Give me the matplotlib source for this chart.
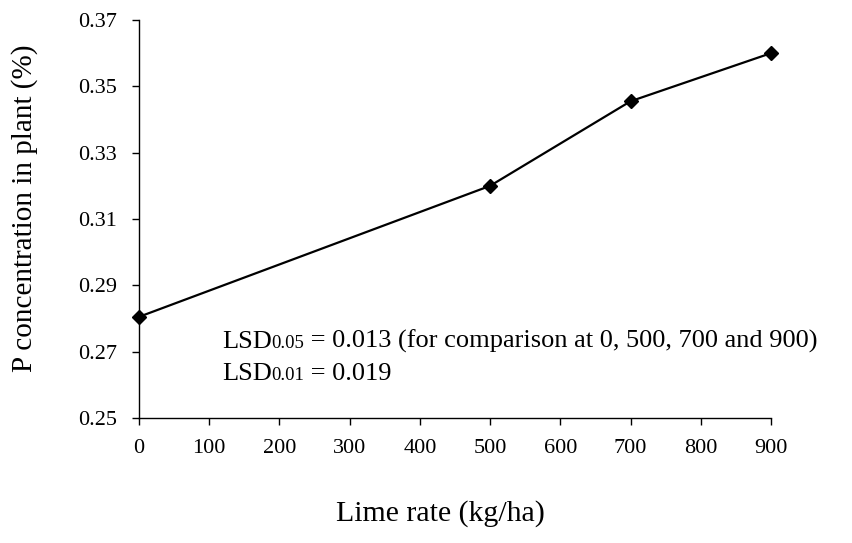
import numpy as np
import matplotlib
matplotlib.use('Agg')
import matplotlib.pyplot as plt
from matplotlib.transforms import offset_copy

# Lime rate (kg/ha) vs P concentration in plant (%)
lime_rate = [0, 500, 700, 900]
p_conc = [0.2805, 0.320, 0.3455, 0.360]

x_ticks = [0, 100, 200, 300, 400, 500, 600, 700, 800, 900]
y_ticks = [0.25, 0.27, 0.29, 0.31, 0.33, 0.35, 0.37]

lsd_lines = [("LSD", "0.05", " = 0.013 (for comparison at 0, 500, 700 and 900)"),
             ("LSD", "0.01", " = 0.019")]

plt.rcParams['font.family'] = ['Liberation Serif', 'DejaVu Serif']

fig = plt.figure(figsize=(8.53, 5.43), dpi=100)
ax = fig.add_axes([139/853, 1-418/543, (771-139)/853, (418-20)/543])

ax.plot(lime_rate, p_conc, color='black', lw=1.6, marker='D', ms=7,
        markerfacecolor='black', markeredgecolor='black', clip_on=False)

ax.set_xlim(0, 900)
ax.set_ylim(0.25, 0.37)
ax.set_xticks(x_ticks)
ax.set_yticks(y_ticks)
ax.set_yticklabels(['%.2f' % v for v in y_ticks])
ax.tick_params(axis='both', direction='out', length=5, width=1, labelsize=16)
ax.tick_params(axis='y', pad=11)
ax.tick_params(axis='x', pad=10)
for s in ['top', 'right']:
    ax.spines[s].set_visible(False)
for s in ['left', 'bottom']:
    ax.spines[s].set_linewidth(1.0)

fig.text(440/853, 1-514/543, 'Lime rate (kg/ha)', ha='center', va='center', fontsize=21.5)
fig.text(25/853, 1-208/543, 'P concentration in plant (%)', ha='center', va='center',
         rotation=90, fontsize=21)

# LSD annotation, built from pieces so the subscripts are smaller
renderer = fig.canvas.get_renderer()
baselines = [0.2711, 0.2615]
for (a, b, c), yb in zip(lsd_lines, baselines):
    dx = 0.0
    for txt, size in [(a, 19), (b, 13.5), (c, 19)]:
        tr = offset_copy(ax.transData, fig=fig, x=dx, y=0, units='dots')
        t = ax.text(118, yb, txt, fontsize=size, ha='left', va='baseline', transform=tr)
        bb = t.get_window_extent(renderer=renderer)
        dx += bb.width

fig.savefig('out.png', dpi=100)
